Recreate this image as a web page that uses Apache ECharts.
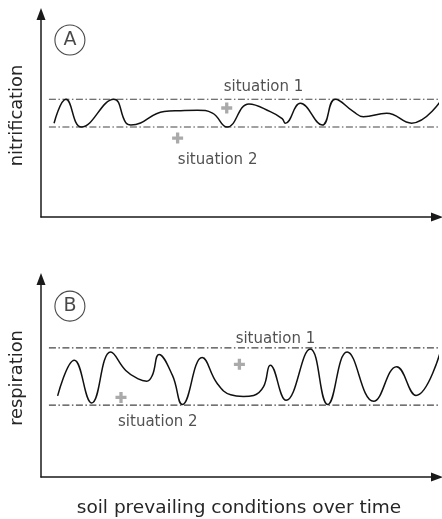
<!DOCTYPE html>
<html>
<head>
<meta charset="utf-8">
<script src="https://cdn.jsdelivr.net/npm/echarts@6/dist/echarts.min.js"></script>
<style>
html,body{margin:0;padding:0;background:#fff;}
#chart{width:442px;height:519px;}
</style>
</head>
<body>
<div id="chart"></div>
<script>
// ---- data (arbitrary units: x = time 0..100, y = activity level 0..100) ----
var panelLetters = ['A', 'B'];
var yAxisNames = ['nitrification', 'respiration'];
var xAxisName = 'soil prevailing conditions over time';
var situationNames = ['situation 1', 'situation 2'];

// Panel A: nitrification curve
var nitrificationCurve = [
  [3.3,46.2],[6.3,58.0],[10.2,44.3],[18.4,58.0],[21.4,46.5],[22.7,45.3],
  [31.1,52.0],[35.3,52.4],[39.5,52.6],[43.3,51.2],[47.0,44.3],[52.5,55.7],
  [57.9,51.9],[60.9,48.5],[61.7,46.2],[65.5,56.0],[71.0,45.3],[74.3,58.0],
  [78.9,51.9],[81.4,49.4],[87.3,51.1],[93.6,46.2],[101.2,57.9]
];
var nitrificationLevels = [58.0, 44.3];          // situation 1, situation 2
var nitrificationSituations = [[46.9,53.7],[34.5,38.9]];
var nitrificationLabelPos = [[56.2,64.0],[44.6,28.1]];

// Panel B: respiration curve
var respirationCurve = [
  [4.2,41.0],[8.4,59.0],[12.8,37.4],[17.6,63.1],[21.4,53.8],[24.4,49.7],
  [26.7,48.4],[28.1,51.3],[29.8,61.9],[33.2,51.3],[35.7,36.6],[40.7,60.3],
  [44.5,47.2],[47.9,41.5],[51.1,40.7],[53.7,41.2],[56.2,45.6],[57.9,56.5],
  [61.9,38.7],[68.0,64.7],[72.4,36.6],[77.3,63.1],[84.0,38.2],[89.8,55.7],
  [94.7,41.2],[100.9,63.6]
];
var respirationLevels = [65.2, 36.3];
var respirationSituations = [[50.1,56.9],[20.2,40.2]];
var respirationLabelPos = [[59.2,69.6],[29.5,27.5]];

var letterPos = [[7.3,87.2],[7.3,86.3]];
var levelStartX = 2.0, levelEndX = 101.3;

// ---- styling / build ----
var FONT = 'DejaVu Sans';
var TEXT = '#262626';
var plusPath = 'path://M3.5,0h3v3.5h3.5v3h-3.5v3.5h-3v-3.5h-3.5v-3h3.5z';

function axisLine() {
  return {show: true, symbol: ['none','triangle'], symbolSize: [9,12],
          lineStyle: {color: '#1a1a1a', width: 1.5}};
}

var grids = [
  {left: 40, right: 5, top: 14, height: 203},
  {left: 40, right: 5, top: 279, height: 204}
];
var xAxes = [], yAxes = [], series = [];
var curves = [nitrificationCurve, respirationCurve];
var levels = [nitrificationLevels, respirationLevels];
var sits = [nitrificationSituations, respirationSituations];
var labelPos = [nitrificationLabelPos, respirationLabelPos];

for (var i = 0; i < 2; i++) {
  xAxes.push({
    type: 'value', gridIndex: i, min: 0, max: 100,
    axisLine: axisLine(), axisTick: {show:false}, axisLabel: {show:false}, splitLine: {show:false},
    name: i === 1 ? xAxisName : '', nameLocation: 'middle', nameGap: 22,
    nameTextStyle: {fontFamily: FONT, fontSize: 18.5, color: TEXT}
  });
  yAxes.push({
    type: 'value', gridIndex: i, min: 0, max: 100,
    axisLine: axisLine(), axisTick: {show:false}, axisLabel: {show:false}, splitLine: {show:false},
    name: yAxisNames[i], nameLocation: 'middle', nameGap: 15, nameRotate: 90,
    nameTextStyle: {fontFamily: FONT, fontSize: 17.8, color: TEXT}
  });
  // dash-dot level lines
  for (var k = 0; k < 2; k++) {
    series.push({
      type: 'line', xAxisIndex: i, yAxisIndex: i, clip: false, silent: true,
      showSymbol: false, symbol: 'none',
      data: [[levelStartX, levels[i][k]], [levelEndX, levels[i][k]]],
      lineStyle: {color: '#444', width: 1.1, type: [7, 2.5, 1.5, 2.5]}
    });
  }
  // curve
  series.push({
    type: 'line', xAxisIndex: i, yAxisIndex: i, clip: false, silent: true,
    showSymbol: false, symbol: 'none', smooth: 0.45,
    data: curves[i],
    lineStyle: {color: '#111', width: 1.5}
  });
  // situation markers
  series.push({
    type: 'scatter', xAxisIndex: i, yAxisIndex: i, silent: true,
    symbol: plusPath, symbolSize: 11,
    itemStyle: {color: '#959595'},
    data: sits[i]
  });
  // situation labels
  series.push({
    type: 'scatter', xAxisIndex: i, yAxisIndex: i, silent: true,
    symbolSize: 0,
    data: labelPos[i].map(function (p, j) { return {value: p, name: situationNames[j]}; }),
    label: {show: true, position: 'inside', formatter: '{b}',
            fontFamily: FONT, fontSize: 15, color: TEXT}
  });
  // panel letter in circle
  series.push({
    type: 'scatter', xAxisIndex: i, yAxisIndex: i, silent: true,
    symbol: 'circle', symbolSize: 30,
    itemStyle: {color: 'rgba(0,0,0,0)', borderColor: '#1a1a1a', borderWidth: 1.1},
    data: [{value: letterPos[i], name: panelLetters[i]}],
    label: {show: true, position: 'inside', formatter: '{b}',
            fontFamily: FONT, fontSize: 19, color: '#1a1a1a'}
  });
}

var chart = echarts.init(document.getElementById('chart'), null, {renderer: 'canvas'});
chart.setOption({
  animation: false,
  backgroundColor: '#fff',
  grid: grids,
  xAxis: xAxes,
  yAxis: yAxes,
  series: series
});
</script>
</body>
</html>
